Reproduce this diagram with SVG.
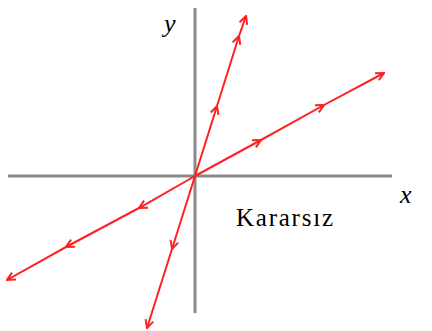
<svg xmlns="http://www.w3.org/2000/svg" width="432" height="331" viewBox="0 0 432 331">
<defs>
<style>
.axis{stroke:#8a8a8a;stroke-width:3;fill:none}
.traj{stroke:#ff2020;stroke-width:2;fill:none}
.lbl{font-family:"Liberation Serif",serif;font-style:italic;font-size:26px;fill:#000}
.txt{font-family:"Liberation Serif",serif;font-size:25px;fill:#000}
</style>
<marker id="ah" viewBox="0 0 10 10" refX="9" refY="5" markerWidth="10" markerHeight="10" markerUnits="userSpaceOnUse" orient="auto">
<path d="M1,1 L9,5 L1,9" fill="none" stroke="#ff2020" stroke-width="2"/>
</marker>
</defs>
<rect width="432" height="331" fill="#fff"/>
<g id="axes">
<line class="axis" x1="8" y1="176" x2="392" y2="176"/>
<line class="axis" x1="195" y1="8" x2="195" y2="313"/>
</g>
<g id="connectors">
<path class="traj" d="M195,176 L217,106 L239,36 L246,16" marker-mid="url(#ah)" marker-end="url(#ah)"/>
<path class="traj" d="M195,176 L172,249 L147,328" marker-mid="url(#ah)" marker-end="url(#ah)"/>
<path class="traj" d="M195,176 L261,140 L324,105 L384,73" marker-mid="url(#ah)" marker-end="url(#ah)"/>
<path class="traj" d="M195,176 L139,208 L66,247 L7,280" marker-mid="url(#ah)" marker-end="url(#ah)"/>
</g>
<g id="label-y"><text class="lbl" x="164" y="32">y</text></g>
<g id="label-x"><text class="lbl" x="400" y="203">x</text></g>
<g id="label-kararsiz"><text class="txt" x="236" y="226" textLength="97" lengthAdjust="spacing">Kararsız</text></g>
</svg>
